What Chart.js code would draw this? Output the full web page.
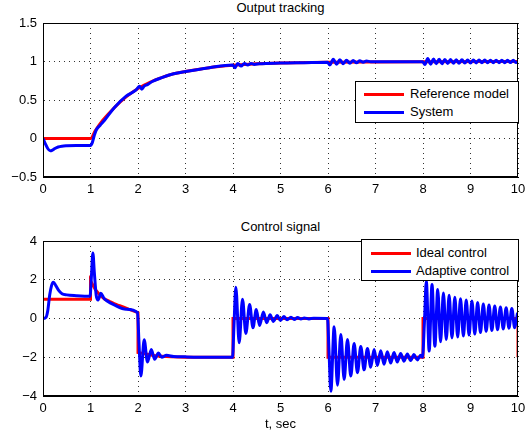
<!DOCTYPE html>
<html>
<head>
<meta charset="utf-8">
<script src="https://cdn.jsdelivr.net/npm/chart.js@4.4.0/dist/chart.umd.min.js"></script>
<style>
  body { margin: 0; width: 526px; height: 441px; background: #fff; position: relative; overflow: hidden;
         font-family: "Liberation Sans", Arial, sans-serif; font-size: 13px; color: #000; }
  canvas { position: absolute; left: 0; }
  .title { position: absolute; left: 43px; width: 475px; text-align: center; line-height: 15px; }
  .legend { position: absolute; background: #fff; border: 1px solid #000; box-sizing: border-box; }
  .legend div { position: absolute; line-height: 15px; white-space: nowrap; }
  .legend span { position: absolute; height: 3px; width: 40px; }
</style>
</head>
<body>
<div class="title" style="top:0px">Output tracking</div>
<canvas id="outputChart" width="526" height="200" style="top:0"></canvas>
<div class="legend" style="left:355px; top:81px; width:164px; height:42px">
  <span style="left:8px; top:11px; background:#f00"></span><div style="left:54px; top:4px">Reference model</div>
  <span style="left:8px; top:29px; background:#00f"></span><div style="left:54px; top:22px">System</div>
</div>

<div class="title" style="top:219px">Control signal</div>
<canvas id="controlChart" width="526" height="241" style="top:200px"></canvas>
<div class="legend" style="left:361px; top:239px; width:158px; height:42px">
  <span style="left:9px; top:12px; background:#f00"></span><div style="left:54px; top:5px">Ideal control</div>
  <span style="left:9px; top:30px; background:#00f"></span><div style="left:54px; top:23px">Adaptive control</div>
</div>

<script>
// top plot: reference model vs system output
const refModelT = [0, 1, 1.1, 1.25, 1.5, 1.75, 2, 2.25, 2.5, 2.75, 3, 3.5, 4, 4.5, 5, 6, 7, 8, 10];
const refModelY = [0, 0, 0.1, 0.23, 0.4, 0.54, 0.65, 0.73, 0.79, 0.84, 0.87, 0.92, 0.95, 0.97, 0.98, 0.99, 0.995, 0.998, 1.0];

const systemT = [
  0, 0.05, 0.1, 0.15, 0.2, 0.25, 0.32, 0.4, 0.5, 0.7, 1.0,
  1.04, 1.08, 1.12, 1.2, 1.3, 1.5, 1.75, 1.96,
  2.03, 2.08, 2.13, 2.2, 2.3, 2.5, 2.75, 3, 3.5, 3.99,
  4.04, 4.1, 4.17, 4.24, 4.31, 4.38, 4.45, 4.55, 5, 5.5, 5.99,
  6.04, 6.11, 6.18, 6.25, 6.32, 6.39, 6.46, 6.53, 6.6, 6.67, 6.74, 6.81, 6.9, 7.1, 7.5, 7.99,
  8.04, 8.1, 8.16, 8.22, 8.28, 8.34, 8.4, 8.46, 8.52, 8.58, 8.64, 8.7, 8.76, 8.82, 8.88, 8.94,
  9.0, 9.06, 9.12, 9.18, 9.24, 9.3, 9.36, 9.42, 9.48, 9.54, 9.6, 9.66, 9.72, 9.78, 9.84, 9.9, 9.96, 10
];
const systemY = [
  0, -0.07, -0.13, -0.16, -0.15, -0.13, -0.11, -0.1, -0.095, -0.09, -0.09,
  -0.05, 0.04, 0.11, 0.17, 0.24, 0.4, 0.55, 0.63,
  0.68, 0.64, 0.68, 0.7, 0.74, 0.79, 0.84, 0.87, 0.92, 0.955,
  0.92, 0.975, 0.94, 0.975, 0.955, 0.975, 0.962, 0.97, 0.98, 0.985, 0.99,
  0.955, 1.03, 0.965, 1.022, 0.972, 1.016, 0.978, 1.012, 0.984, 1.009, 0.99, 1.006, 0.996, 0.998, 0.998, 0.998,
  0.96, 1.038, 0.965, 1.032, 0.97, 1.03, 0.972, 1.027, 0.975, 1.025, 0.977, 1.024, 0.978, 1.022, 0.98, 1.021,
  0.981, 1.02, 0.982, 1.019, 0.983, 1.018, 0.984, 1.017, 0.984, 1.017, 0.985, 1.016, 0.985, 1.016, 0.986, 1.015, 0.986, 1.0
];

// bottom plot: ideal vs adaptive control
const idealT = [0, 1, 1, 1.1, 1.2, 1.3, 1.4, 1.5, 1.6, 1.7, 1.8, 1.9, 2, 2, 2.1, 2.2, 2.3, 2.4, 2.5, 2.7, 3, 4, 4, 6, 6, 8, 8, 10, 10];
const idealU = [1, 1, 1.95, 1.5, 1.2, 1.0, 0.88, 0.77, 0.67, 0.58, 0.48, 0.39, 0.3, -1.75, -1.8, -1.85, -1.9, -1.93, -1.95, -1.98, -2, -2, 0, 0, -2, -2, 0, 0, -2];

const adaptiveT = [
  0, 0.06, 0.1, 0.14, 0.18, 0.22, 0.27, 0.33, 0.4, 0.5, 0.7, 0.99, 1.02, 1.05, 1.08, 1.12, 1.16, 1.22, 1.28, 1.35, 1.5, 1.75, 1.99,
  2.02, 2.06, 2.13, 2.2, 2.28, 2.35, 2.43, 2.5, 2.6, 2.75, 3.0, 3.5, 3.99,
  4.02, 4.06, 4.13, 4.2, 4.27, 4.35, 4.42, 4.49, 4.56, 4.64, 4.71, 4.78, 4.85, 4.93, 5.0, 5.07, 5.14, 5.22, 5.29, 5.36, 5.43, 5.5, 5.6, 5.7, 5.99,
  6.02, 6.06, 6.13, 6.2, 6.27, 6.34, 6.41, 6.48, 6.55, 6.62, 6.69, 6.76, 6.83, 6.9, 6.97, 7.04, 7.11, 7.18, 7.25, 7.32, 7.39, 7.46, 7.53, 7.6, 7.67, 7.74, 7.81, 7.88, 7.95, 7.99,
  8.03, 8.07, 8.13, 8.19, 8.25, 8.31, 8.37, 8.43, 8.49, 8.55, 8.61, 8.67, 8.73, 8.79, 8.85, 8.91, 8.97, 9.03, 9.09, 9.15, 9.21, 9.27, 9.33, 9.39, 9.45, 9.51, 9.57, 9.63, 9.69, 9.75, 9.81, 9.87, 9.93, 9.99
];
const adaptiveU = [
  0, 0.05, 0.4, 1.2, 1.7, 1.87, 1.7, 1.45, 1.28, 1.22, 1.18, 1.15, 2.2, 3.38, 2.4, 1.2, 0.95, 1.3, 1.05, 0.9, 0.7, 0.48, 0.3,
  -1.2, -2.97, -1.1, -2.25, -1.6, -2.1, -1.78, -2.0, -1.9, -1.96, -1.98, -2.0, -2.0,
  -0.4, 1.61, -1.25, 1.0, -0.77, 0.72, -0.48, 0.46, -0.36, 0.33, -0.22, 0.2, -0.15, 0.15, -0.1, 0.1, -0.07, 0.07, -0.05, 0.05, -0.03, 0.03, -0.02, 0.01, 0,
  -1.6, -3.75, -0.43, -3.44, -0.82, -3.14, -1.08, -2.97, -1.29, -2.8, -1.45, -2.65, -1.55, -2.52, -1.6, -2.42, -1.66, -2.36, -1.72, -2.3, -1.76, -2.25, -1.8, -2.2, -1.83, -2.17, -1.86, -2.14, -1.9, -2.0,
  -0.2, 1.92, -1.68, 1.75, -1.43, 1.5, -1.2, 1.32, -1.08, 1.2, -1.0, 1.1, -0.95, 1.02, -0.9, 0.95, -0.85, 0.9, -0.8, 0.82, -0.72, 0.75, -0.66, 0.7, -0.62, 0.65, -0.58, 0.6, -0.54, 0.55, -0.5, 0.52, -0.48, 0.3
];

const xTicks = { min: 0, max: 10, step: 1 };

const fontFamily = '"Liberation Sans", Arial, sans-serif';

function pairs(ts, vs) {
  return ts.map((t, i) => ({ x: t, y: vs[i] }));
}

function tickLabel(v) {
  return v < 0 ? '\u2212' + Math.abs(v) : String(v);
}

// full MATLAB-like axes box
const boxPlugin = {
  id: 'box',
  afterDraw(chart) {
    const { ctx, chartArea: a } = chart;
    ctx.save();
    ctx.strokeStyle = '#000';
    ctx.lineWidth = 1;
    ctx.strokeRect(Math.round(a.left) + 0.5, Math.round(a.top) + 0.5,
                   Math.round(a.right - a.left) - 1, Math.round(a.bottom - a.top) - 1);
    ctx.restore();
  }
};

function makeChart(el, datasets, yMin, yMax, yStep, padTop, xHeight, xTitle) {
  return new Chart(el, {
    type: 'line',
    data: { datasets: datasets },
    options: {
      responsive: false,
      animation: false,
      layout: { padding: { top: padTop, right: 0, bottom: 0, left: 0 } },
      plugins: { legend: { display: false }, tooltip: { enabled: false } },
      elements: { point: { radius: 0 } },
      scales: {
        x: {
          type: 'linear',
          min: xTicks.min, max: xTicks.max,
          ticks: { stepSize: xTicks.step, color: '#000', padding: 5, font: { size: 13, family: fontFamily } },
          grid: { color: '#333', drawTicks: false },
          border: { color: '#000', dash: [1, 4] },
          title: { display: !!xTitle, text: xTitle, color: '#000', padding: { top: 0, bottom: 9 },
                   font: { size: 13, family: fontFamily } },
          afterFit(s) { s.height = xHeight; s.paddingRight = 8; s.paddingLeft = 0; }
        },
        y: {
          min: yMin, max: yMax,
          ticks: { stepSize: yStep, color: '#000', padding: 6, callback: tickLabel,
                   font: { size: 13, family: fontFamily } },
          grid: { color: '#333', drawTicks: false },
          border: { color: '#000', dash: [1, 4] },
          afterFit(s) { s.width = 43; }
        }
      }
    },
    plugins: [boxPlugin]
  });
}

makeChart(document.getElementById('outputChart'), [
  { label: 'System', data: pairs(systemT, systemY), borderColor: '#0000ff', borderWidth: 3,
    cubicInterpolationMode: 'monotone' },
  { label: 'Reference model', data: pairs(refModelT, refModelY), borderColor: '#ff0000', borderWidth: 3,
    cubicInterpolationMode: 'monotone' }
], -0.5, 1.5, 0.5, 23, 23, '');

makeChart(document.getElementById('controlChart'), [
  { label: 'Adaptive control', data: pairs(adaptiveT, adaptiveU), borderColor: '#0000ff', borderWidth: 3,
    cubicInterpolationMode: 'monotone' },
  { label: 'Ideal control', data: pairs(idealT, idealU), borderColor: '#ff0000', borderWidth: 3, tension: 0 }
], -4, 4, 2, 41, 45, 't, sec');
</script>
</body>
</html>
